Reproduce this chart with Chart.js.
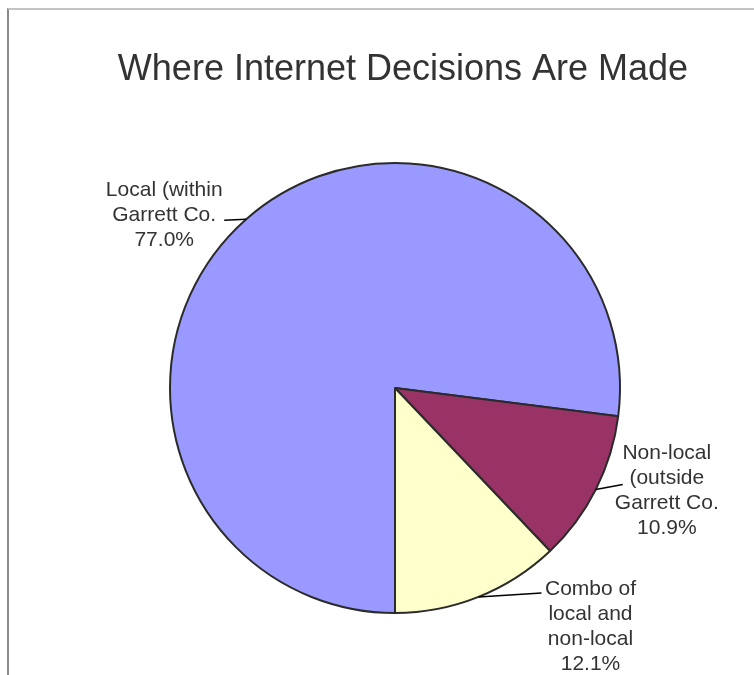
<!DOCTYPE html>
<html>
<head>
<meta charset="utf-8">
<title>Where Internet Decisions Are Made</title>
<script src="https://cdn.jsdelivr.net/npm/chart.js@4"></script>
<style>
  body { margin: 0; background: #fff; }
  #wrap { position: relative; width: 754px; height: 675px; }
  #frame { position: absolute; left: 7px; top: 8px; right: 0; bottom: 0;
           border-top: 2px solid #c4c4c4; border-left: 2px solid #8a8a8a; pointer-events: none; }
</style>
</head>
<body>
<div id="wrap">
  <canvas id="chart" width="754" height="675"></canvas>
  <div id="frame"></div>
</div>
<script>
const titleText = 'Where Internet Decisions Are Made';
const categories = [
    ['Local (within', 'Garrett Co.'],
    ['Non-local', '(outside', 'Garrett Co.'],
    ['Combo of', 'local and', 'non-local']
];
const shares = [77.0, 10.9, 12.1];
const colors = ['#9999FF', '#993366', '#FFFFCC'];

// leader line end (from slice edge) and text block placement, per slice
const labelPlace = [
    { lx: -22, ly: 1, tx: -60, ty: -30 },
    { lx: 27, ly: -5, tx: 44, ty: -31 },
    { lx: 63, ly: -4, tx: 49, ty: -4 }
];

const titlePlugin = {
    id: 'drawTitle',
    afterDraw(chart) {
        const c = chart.ctx;
        c.save();
        c.font = '36px "Liberation Sans", Arial, sans-serif';
        c.fillStyle = '#333333';
        c.textAlign = 'center';
        c.textBaseline = 'alphabetic';
        c.fillText(titleText, 403, 80);
        c.restore();
    }
};

const labelPlugin = {
    id: 'sliceLabels',
    afterDatasetsDraw(chart) {
        const c = chart.ctx;
        const arcs = chart.getDatasetMeta(0).data;
        c.save();
        c.font = '21px "Liberation Sans", Arial, sans-serif';
        c.textAlign = 'center';
        c.textBaseline = 'middle';
        arcs.forEach((arc, i) => {
            const mid = (arc.startAngle + arc.endAngle) / 2;
            const ex = arc.x + Math.cos(mid) * arc.outerRadius;
            const ey = arc.y + Math.sin(mid) * arc.outerRadius;
            const p = labelPlace[i];
            const lx = ex + p.lx, ly = ey + p.ly;
            c.strokeStyle = '#000';
            c.lineWidth = 1.5;
            c.beginPath();
            c.moveTo(ex, ey);
            c.lineTo(lx, ly);
            c.stroke();
            const lines = categories[i].concat([shares[i].toFixed(1) + '%']);
            c.fillStyle = '#333333';
            lines.forEach((t, k) => {
                c.fillText(t, lx + p.tx, ly + p.ty + k * 25);
            });
        });
        c.restore();
    }
};

const ctx = document.getElementById('chart').getContext('2d');
new Chart(ctx, {
    type: 'pie',
    data: {
        labels: categories.map(l => l.join(' ')),
        datasets: [{
            data: shares,
            backgroundColor: colors,
            borderColor: '#2b2b2b',
            borderWidth: 2
        }]
    },
    options: {
        responsive: false,
        animation: false,
        rotation: 180,
        layout: { padding: { left: 169, right: 133, top: 162, bottom: 61 } },
        plugins: {
            legend: { display: false },
            tooltip: { enabled: false },
            title: { display: false }
        }
    },
    plugins: [titlePlugin, labelPlugin]
});
</script>
</body>
</html>
